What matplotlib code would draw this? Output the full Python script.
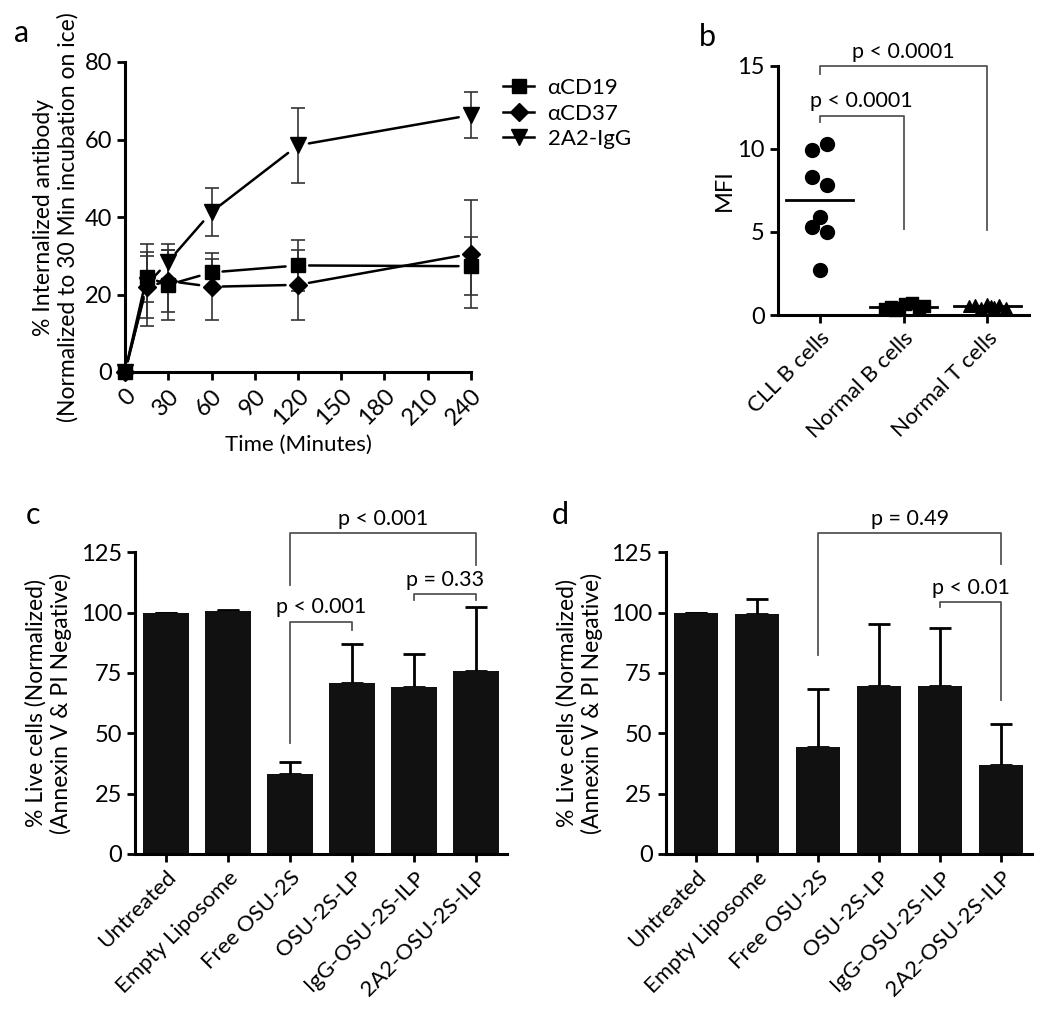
import matplotlib
matplotlib.use('Agg')
import matplotlib.pyplot as plt
from matplotlib.lines import Line2D
import numpy as np

plt.rcParams['font.family'] = ['Lato', 'DejaVu Sans']
plt.rcParams['font.size'] = 15

# ---- panel a data ----
timeMin = [0, 15, 30, 60, 120, 240]
cd19 = [0, 24.5, 22.5, 25.7, 27.5, 27.3]
cd19Err = [0, 6.5, 9.0, 3.5, 6.5, 7.5]
cd37 = [0, 22.0, 23.5, 22.0, 22.5, 30.5]
cd37Err = [0, 8.0, 8.0, 8.7, 9.0, 14.0]
igg2a2 = [0, 22.5, 28.5, 41.3, 58.5, 66.3]
igg2a2Err = [0, 10.5, 4.5, 6.3, 9.7, 6.0]
seriesNames = ['\u03b1CD19', '\u03b1CD37', '2A2-IgG']

# ---- panel b data ----
groupsB = ['CLL B cells', 'Normal B cells', 'Normal T cells']
cllB = [9.9, 10.3, 8.3, 7.8, 5.9, 5.3, 5.0, 2.7]
cllOffset = [-0.09, 0.09, -0.09, 0.09, 0.0, -0.09, 0.09, 0.0]
normB = [0.35, 0.5, 0.45, 0.65, 0.7, 0.4, 0.55, 0.3]
normBOffset = [-0.22, -0.15, -0.05, 0.02, 0.1, 0.18, 0.24, -0.1]
normT = [0.55, 0.6, 0.45, 0.65, 0.5, 0.6, 0.45, 0.55]
normTOffset = [-0.22, -0.14, -0.07, 0.0, 0.08, 0.14, 0.22, 0.04]
brB = [(0, 2, 15.0, 14.5, 5.1, 'p < 0.0001'), (0, 1, 12.0, 11.6, 5.2, 'p < 0.0001')]

# ---- panels c, d data ----
treatments = ['Untreated', 'Empty Liposome', 'Free OSU-2S', 'OSU-2S-LP',
              'IgG-OSU-2S-ILP', '2A2-OSU-2S-ILP']
liveC = [100, 100.5, 33, 71, 69, 76]
liveCErr = [0, 0.5, 5, 16, 14, 26.3]
liveD = [100, 99.5, 44.5, 69.5, 69.5, 37]
liveDErr = [0, 6, 24, 26, 24, 17]
brC = [(2, 5, 133, 111.5, 119.8, 'p < 0.001'), (4, 5, 107.8, 105.3, 105.3, 'p = 0.33'),
       (2, 3, 96.3, 46, 93, 'p < 0.001')]
brD = [(2, 5, 133, 82.5, 120.2, 'p = 0.49'), (4, 5, 104.3, 102.2, 63.8, 'p < 0.01')]

fig = plt.figure(figsize=(10.5, 10.27), dpi=100)
W, H = 1050, 1027


def box(l, r, t, b):
    return [l / W, 1 - b / H, (r - l) / W, (b - t) / H]


def style(ax):
    for s in ['top', 'right']:
        ax.spines[s].set_visible(False)
    for s in ['left', 'bottom']:
        ax.spines[s].set_linewidth(2.2)
    ax.tick_params(direction='out', length=6, width=2, labelsize=17)


def bracket(ax, x0, x1, y, yl0, yl1, txt):
    ax.plot([x0, x0, x1, x1], [yl0, y, y, yl1], color='#555555', lw=1.3, clip_on=False)
    ax.annotate(txt, xy=((x0 + x1) / 2, y), xytext=(0, 3), textcoords='offset points',
                ha='center', va='bottom', fontsize=15.5, annotation_clip=False)


# ---- a ----
ax1 = fig.add_axes(box(125, 471, 62, 372))
style(ax1)
mk = [('s', 10), ('D', 9), ('v', 11)]
handles = []
for (m, ms), vals, errs, name in zip(mk, [cd19, cd37, igg2a2], [cd19Err, cd37Err, igg2a2Err], seriesNames):
    ax1.errorbar(timeMin, vals, yerr=errs, fmt='none', ecolor='#333333', elinewidth=1.2,
                 capsize=5, capthick=1.2, clip_on=False)
    for i in range(len(timeMin) - 1):
        ax1.annotate('', xy=(timeMin[i + 1], vals[i + 1]), xytext=(timeMin[i], vals[i]),
                     arrowprops=dict(arrowstyle='-', lw=1.8, color='black', shrinkA=8, shrinkB=9))
    ax1.plot(timeMin, vals, ls='none', marker=m, ms=ms, color='black', clip_on=False, zorder=5)
    handles.append(Line2D([], [], color='black', lw=1.8, marker=m, ms=ms))
ax1.set_xlim(0, 240)
ax1.set_ylim(0, 80)
ax1.set_xticks(np.arange(0, 241, 30))
ax1.set_yticks([0, 20, 40, 60, 80])
plt.setp(ax1.get_xticklabels(), rotation=45, ha='right', va='top', rotation_mode='anchor')
ax1.set_xlabel('Time (Minutes)', fontsize=16, labelpad=4)
ax1.set_ylabel('% Internalized antibody\n(Normalized to 30 Min incubation on ice)', fontsize=16.5, labelpad=4)
ax1.legend(handles, seriesNames, loc='upper left', bbox_to_anchor=(492 / W, 1 - 67 / H),
           bbox_transform=fig.transFigure, frameon=False, handlelength=1.4, handletextpad=0.6,
           labelspacing=0.25, borderpad=0, fontsize=16)

# ---- b ----
ax2 = fig.add_axes(box(778, 1029, 65.7, 315))
style(ax2)
ax2.scatter(np.array(cllOffset), cllB, s=100, color='black', clip_on=False, zorder=3)
ax2.scatter(1 + np.array(normBOffset), normB, s=80, marker='s', color='black', clip_on=False, zorder=3)
ax2.scatter(2 + np.array(normTOffset), normT, s=70, marker='^', color='black', clip_on=False, zorder=3)
for i, vals in enumerate([cllB, normB, normT]):
    ax2.plot([i - 0.4, i + 0.4], [np.mean(vals)] * 2, color='black', lw=2, zorder=4)
ax2.set_xlim(-0.5, 2.5)
ax2.set_ylim(0, 15)
ax2.set_yticks([0, 5, 10, 15])
ax2.set_xticks(range(3))
ax2.set_xticklabels(groupsB, rotation=45, ha='right', va='top', rotation_mode='anchor', fontsize=16)
ax2.set_ylabel('MFI', fontsize=17, labelpad=2)
for b in brB:
    bracket(ax2, *b)

# ---- c, d ----
for rect, vals, errs, brs in [(box(135, 507, 552.3, 854), liveC, liveCErr, brC),
                              (box(665.7, 1031.7, 552.3, 854), liveD, liveDErr, brD)]:
    ax = fig.add_axes(rect)
    style(ax)
    x = np.arange(len(treatments))
    ax.bar(x, vals, width=0.73, color='#111111', zorder=2)
    ax.errorbar(x, vals, yerr=[np.zeros(len(errs)), errs], fmt='none', ecolor='black',
                elinewidth=2, capsize=8, capthick=2, zorder=1)
    ax.set_xlim(-0.5, 5.5)
    ax.set_ylim(0, 125)
    ax.set_yticks([0, 25, 50, 75, 100, 125])
    ax.set_xticks(x)
    ax.set_xticklabels(treatments, rotation=45, ha='right', va='top', rotation_mode='anchor', fontsize=16)
    ax.set_ylabel('% Live cells (Normalized)\n(Annexin V & PI Negative)', fontsize=16.5, labelpad=6)
    for b in brs:
        bracket(ax, *b)

for lbl, px, py in [('a', 22, 33), ('b', 707, 37), ('c', 33, 515), ('d', 560, 515)]:
    fig.text(px / W, 1 - py / H, lbl, fontsize=22, ha='center', va='center')

fig.savefig('out.png', dpi=100)
